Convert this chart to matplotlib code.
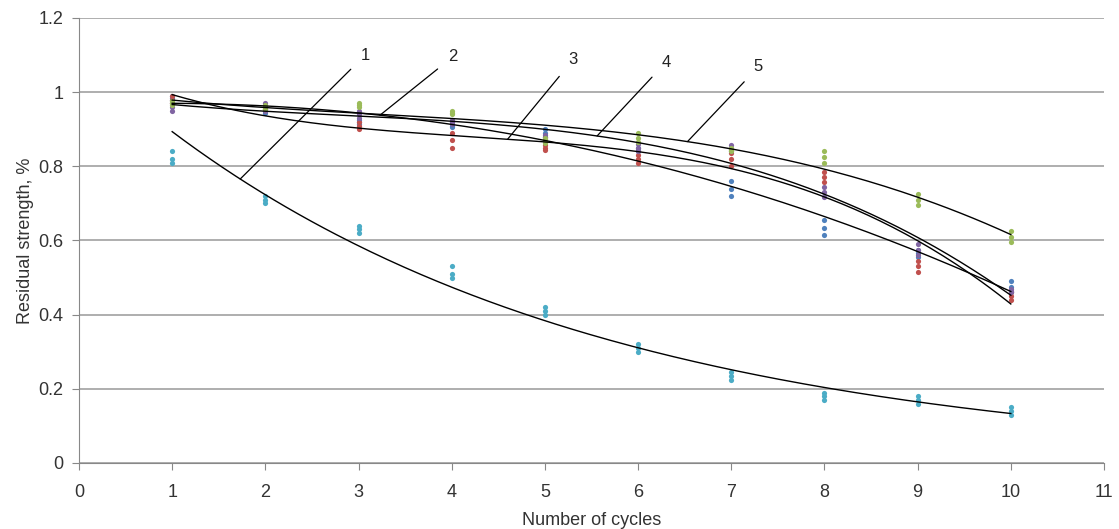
import numpy as np
import matplotlib
matplotlib.use('Agg')
import matplotlib.pyplot as plt

plt.rcParams['font.family'] = ['Liberation Sans', 'DejaVu Sans']

# Ciclos y tres lecturas por ciclo para cada serie
ciclos = [1, 2, 3, 4, 5, 6, 7, 8, 9, 10]

serie_1 = [[0.84, 0.82, 0.81], [0.72, 0.71, 0.70], [0.64, 0.63, 0.62],
           [0.53, 0.51, 0.50], [0.42, 0.41, 0.40], [0.32, 0.31, 0.30],
           [0.245, 0.235, 0.225], [0.19, 0.18, 0.17], [0.18, 0.17, 0.16],
           [0.15, 0.14, 0.13]]
serie_2 = [[0.99, 0.985, 0.98], [0.955, 0.95, 0.945], [0.925, 0.92, 0.915],
           [0.92, 0.91, 0.905], [0.90, 0.89, 0.88], [0.85, 0.845, 0.84],
           [0.76, 0.74, 0.72], [0.655, 0.635, 0.615], [0.575, 0.565, 0.555],
           [0.49, 0.475, 0.46]]
serie_3 = [[0.99, 0.98, 0.97], [0.965, 0.96, 0.955], [0.92, 0.91, 0.90],
           [0.89, 0.87, 0.85], [0.857, 0.85, 0.845], [0.83, 0.82, 0.81],
           [0.836, 0.82, 0.80], [0.785, 0.77, 0.758], [0.545, 0.53, 0.515],
           [0.46, 0.45, 0.44]]
serie_4 = [[0.97, 0.96, 0.95], [0.97, 0.96, 0.95], [0.95, 0.94, 0.93],
           [0.925, 0.92, 0.915], [0.885, 0.88, 0.875], [0.86, 0.85, 0.84],
           [0.857, 0.848, 0.84], [0.745, 0.73, 0.717], [0.59, 0.575, 0.56],
           [0.47, 0.465, 0.46]]
serie_5 = [[0.975, 0.97, 0.965], [0.965, 0.96, 0.955], [0.97, 0.965, 0.96],
           [0.95, 0.945, 0.94], [0.877, 0.87, 0.863], [0.89, 0.877, 0.865],
           [0.85, 0.845, 0.84], [0.84, 0.825, 0.81], [0.725, 0.71, 0.695],
           [0.625, 0.61, 0.595]]

colores = ['#4BACC6', '#4F81BD', '#C0504D', '#8064A2', '#9BBB59']
etiquetas = ['1', '2', '3', '4', '5']

fig = plt.figure(figsize=(11.19, 5.29), dpi=100)
ax = fig.add_axes([0.0706, 0.1248, 0.9160, 0.8412])

x_fino = np.linspace(1, 10, 200)
series = [serie_1, serie_2, serie_3, serie_4, serie_5]
curvas = []
for i, datos in enumerate(series):
    xs = np.repeat(ciclos, 3)
    ys = np.array(datos).ravel()
    ax.scatter(xs, ys, s=14, color=colores[i], zorder=3, linewidths=0)
    if i == 0:
        # línea de tendencia exponencial
        b, a = np.polyfit(xs, np.log(ys), 1)
        curva = lambda x, a=a, b=b: np.exp(a + b * x)
    else:
        # línea de tendencia polinómica de orden 3
        p = np.polyfit(xs, ys, 3)
        curva = lambda x, p=p: np.polyval(p, x)
    curvas.append(curva)
    ax.plot(x_fino, curva(x_fino), color='black', lw=1, zorder=4)

# Etiquetas numéricas con líneas guía
pos_texto = [(3.07, 1.10), (4.01, 1.095), (5.30, 1.087), (6.30, 1.081), (7.29, 1.068)]
pos_guia = [1.73, 3.23, 4.60, 5.56, 6.53]
for i in range(5):
    xt, yt = pos_texto[i]
    xg = pos_guia[i]
    ax.annotate(etiquetas[i], xy=(xg, curvas[i](xg)), xytext=(xt, yt),
                fontsize=12, ha='center', va='center', color='#222222',
                arrowprops=dict(arrowstyle='-', color='black', lw=0.9,
                                shrinkA=7, shrinkB=0))

ax.set_xlim(0, 11)
ax.set_ylim(0, 1.2)
ax.set_xticks(range(0, 12))
ax.set_yticks([0, 0.2, 0.4, 0.6, 0.8, 1.0, 1.2])
ax.set_yticklabels(['0', '0.2', '0.4', '0.6', '0.8', '1', '1.2'])
ax.yaxis.grid(True, color='#999999', lw=1.1)
ax.set_axisbelow(True)
for lado in ['top', 'right']:
    ax.spines[lado].set_visible(False)
for lado in ['left', 'bottom']:
    ax.spines[lado].set_color('#888888')
ax.tick_params(colors='#888888', labelcolor='#333333', labelsize=13, length=5, pad=6)
ax.tick_params(axis='x', pad=10)
ax.set_xlabel('Number of cycles', fontsize=13, color='#333333', labelpad=8)
ax.set_ylabel('Residual strength, %', fontsize=13, color='#333333', labelpad=3)

fig.savefig('out.png', dpi=100)
